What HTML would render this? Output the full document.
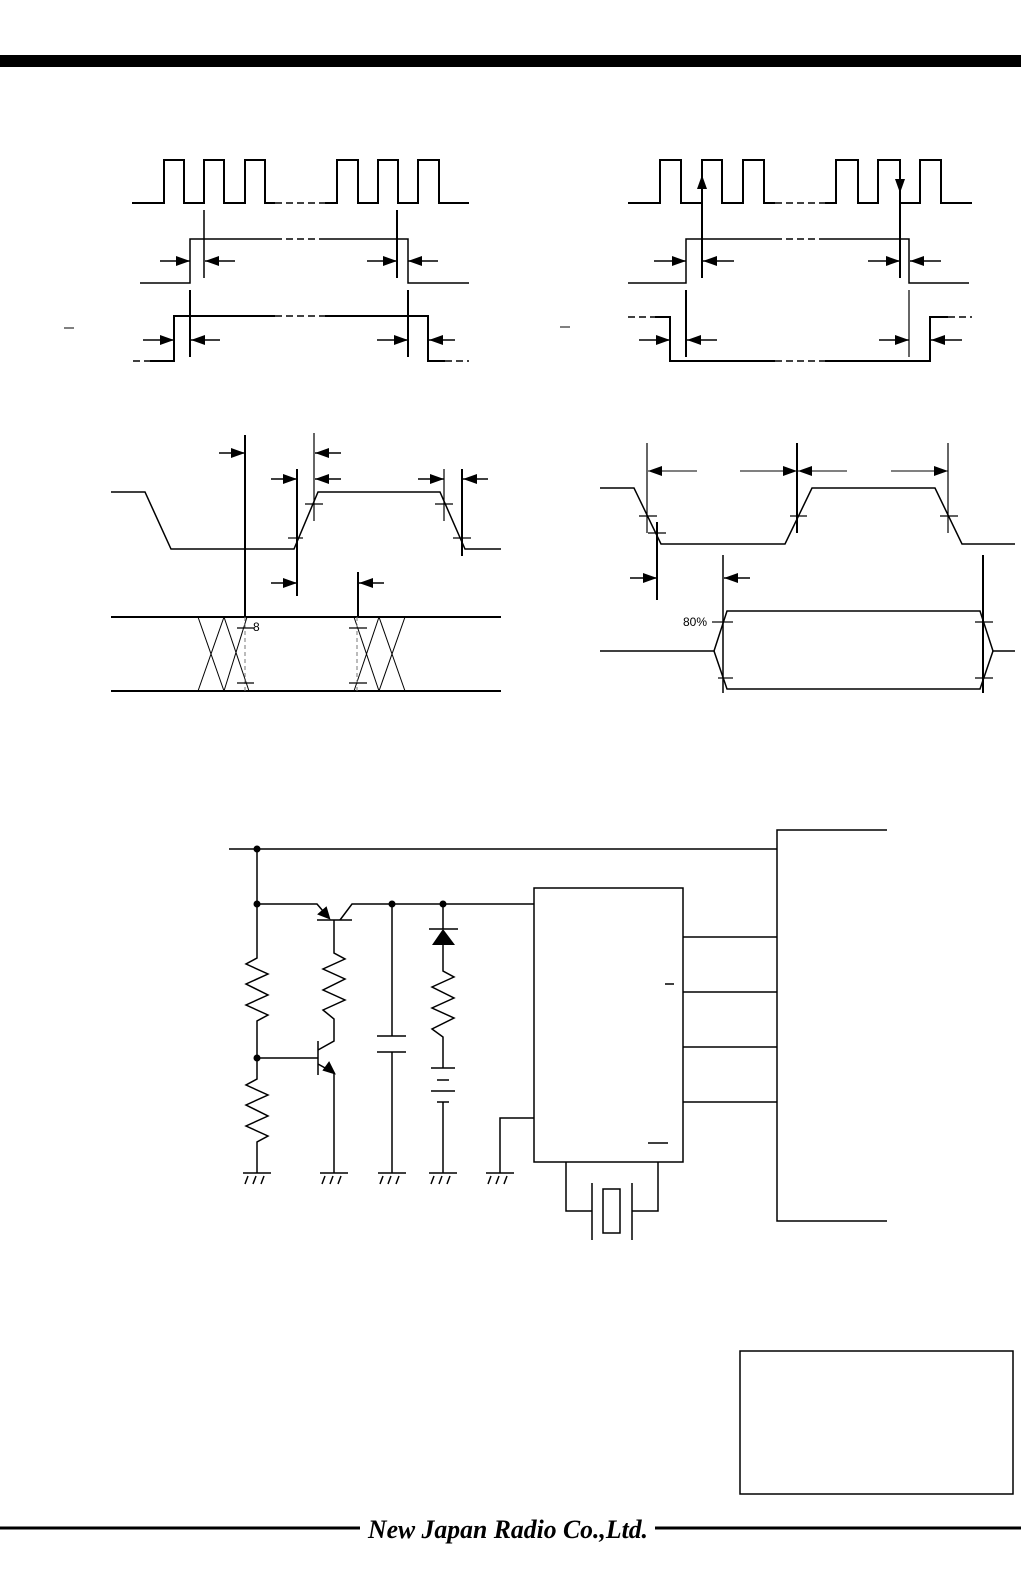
<!DOCTYPE html>
<html><head><meta charset="utf-8"><style>html,body{margin:0;padding:0;background:#fff}svg{display:block}</style></head>
<body>
<svg width="1021" height="1576" viewBox="0 0 1021 1576" xmlns="http://www.w3.org/2000/svg" font-family="Liberation Sans, sans-serif">
<defs>
<marker id="a" markerUnits="userSpaceOnUse" markerWidth="14" markerHeight="10" refX="14" refY="5" orient="auto"><path d="M0,0 L14,5 L0,10 Z" fill="#000"/></marker>
<g id="gnd"><line x1="-14" y1="0" x2="14" y2="0"/><line x1="-9" y1="3" x2="-12" y2="11"/><line x1="-1" y1="3" x2="-4" y2="11"/><line x1="7" y1="3" x2="4" y2="11"/></g>
</defs>
<rect x="0" y="55" width="1021" height="12" fill="#000"/>
<g fill="none" stroke="#000" stroke-width="2">
<!-- Diagram 1 -->
<polyline points="132,203 164,203 164,160 184,160 184,203 204,203 204,160 224,160 224,203 245,203 245,160 265,160 265,203 275,203"/>
<polyline points="325,203 337,203 337,160 358,160 358,203 378,203 378,160 398,160 398,203 418,203 418,160 439,160 439,203 469,203"/>
<line x1="275" y1="203" x2="325" y2="203" stroke-dasharray="7,4" stroke-width="1.5"/>
<line x1="204" y1="210" x2="204" y2="278" stroke-width="1.5"/>
<line x1="397" y1="210" x2="397" y2="278"/>
<polyline points="140,283 190,283 190,239 275,239" stroke-width="1.5"/>
<polyline points="325,239 408,239 408,283 469,283" stroke-width="1.5"/>
<line x1="275" y1="239" x2="325" y2="239" stroke-dasharray="7,4" stroke-width="1.5"/>
<line x1="190" y1="290" x2="190" y2="357"/>
<line x1="408" y1="290" x2="408" y2="357"/>
<polyline points="150,361 174,361 174,316 275,316"/>
<polyline points="325,316 428,316 428,361 445,361"/>
<g stroke-dasharray="7,4" stroke-width="1.5"><line x1="133" y1="361" x2="150" y2="361"/><line x1="275" y1="316" x2="325" y2="316"/><line x1="445" y1="361" x2="469" y2="361"/></g>
<!-- Diagram 2 -->
<polyline points="628,203 660,203 660,160 681,160 681,203 702,203 702,160 722,160 722,203 743,203 743,160 764,160 764,203 775,203"/>
<polyline points="825,203 836,203 836,160 858,160 858,203 878,203 878,160 900,160 900,203 920,203 920,160 941,160 941,203 972,203"/>
<line x1="775" y1="203" x2="825" y2="203" stroke-dasharray="7,4" stroke-width="1.5"/>
<line x1="702" y1="188" x2="702" y2="278"/>
<line x1="900" y1="178" x2="900" y2="278"/>
<polyline points="628,283 686,283 686,239 775,239" stroke-width="1.5"/>
<polyline points="825,239 909,239 909,283 969,283" stroke-width="1.5"/>
<line x1="775" y1="239" x2="825" y2="239" stroke-dasharray="7,4" stroke-width="1.5"/>
<line x1="686" y1="290" x2="686" y2="357"/>
<line x1="909" y1="290" x2="909" y2="357" stroke-width="1.2"/>
<polyline points="655,317 670,317 670,361 775,361"/>
<polyline points="825,361 930,361 930,317 948,317"/>
<g stroke-dasharray="7,4" stroke-width="1.5"><line x1="628" y1="317" x2="655" y2="317"/><line x1="775" y1="361" x2="825" y2="361"/><line x1="948" y1="317" x2="972" y2="317"/></g>
<!-- Diagram 3 -->
<polyline points="111,492 145,492 171,549 294,549 318,492 440,492 465,549 501,549" stroke-width="1.5"/>
<line x1="245" y1="435" x2="245" y2="617"/>
<line x1="297" y1="469" x2="297" y2="596"/>
<line x1="314" y1="433" x2="314" y2="521" stroke-width="1.2"/>
<line x1="444" y1="469" x2="444" y2="521" stroke-width="1.2"/>
<line x1="462" y1="469" x2="462" y2="556"/>
<line x1="358" y1="572" x2="358" y2="617"/>
<g stroke-width="1.2"><line x1="305" y1="504" x2="323" y2="504"/><line x1="288" y1="538" x2="303" y2="538"/><line x1="435" y1="504" x2="453" y2="504"/><line x1="453" y1="538" x2="471" y2="538"/></g>
<line x1="111" y1="617" x2="501" y2="617"/>
<line x1="111" y1="691" x2="501" y2="691"/>
<g stroke-width="1"><line x1="198" y1="617" x2="224" y2="691"/><line x1="224" y1="617" x2="198" y2="691"/><line x1="224" y1="617" x2="249" y2="691"/><line x1="247" y1="617" x2="224" y2="691"/>
<line x1="354" y1="617" x2="379" y2="691"/><line x1="379" y1="617" x2="354" y2="691"/><line x1="379" y1="617" x2="405" y2="691"/><line x1="405" y1="617" x2="379" y2="691"/></g>
<g stroke-width="1" stroke="#777" stroke-dasharray="4,3"><line x1="245" y1="617" x2="245" y2="691"/><line x1="357" y1="617" x2="357" y2="691"/></g>
<g stroke-width="1.2"><line x1="237" y1="628" x2="254" y2="628"/><line x1="237" y1="683" x2="254" y2="683"/><line x1="349" y1="628" x2="367" y2="628"/><line x1="349" y1="683" x2="367" y2="683"/></g>
<!-- Diagram 4 -->
<polyline points="600,488 634,488 661,544 785,544 812,488 935,488 962,544 1015,544" stroke-width="1.5"/>
<g stroke-width="1.2"><line x1="647" y1="443" x2="647" y2="533"/><line x1="948" y1="443" x2="948" y2="533"/></g>
<line x1="797" y1="443" x2="797" y2="533"/>
<line x1="657" y1="522" x2="657" y2="600"/>
<line x1="723" y1="555" x2="723" y2="693" stroke-width="1.5"/>
<line x1="983" y1="555" x2="983" y2="693"/>
<g stroke-width="1.2"><line x1="639" y1="516" x2="657" y2="516"/><line x1="790" y1="516" x2="807" y2="516"/><line x1="940" y1="516" x2="958" y2="516"/><line x1="648" y1="533" x2="666" y2="533"/>
<line x1="718" y1="622" x2="733" y2="622"/><line x1="975" y1="622" x2="993" y2="622"/><line x1="718" y1="678" x2="733" y2="678"/><line x1="975" y1="678" x2="993" y2="678"/><line x1="712" y1="622" x2="718" y2="622"/></g>
<polyline points="600,651 714,651 727,611 980,611 993,651 1015,651" stroke-width="1.5"/>
<polyline points="714,651 727,689 980,689 993,651" stroke-width="1.5"/>
</g>
<!-- arrows -->
<g stroke="#000" stroke-width="1.5" marker-end="url(#a)">
<line x1="160" y1="261" x2="190" y2="261"/><line x1="235" y1="261" x2="205" y2="261"/>
<line x1="367" y1="261" x2="397" y2="261"/><line x1="438" y1="261" x2="408" y2="261"/>
<line x1="143" y1="340" x2="174" y2="340"/><line x1="220" y1="340" x2="191" y2="340"/>
<line x1="377" y1="340" x2="408" y2="340"/><line x1="455" y1="340" x2="429" y2="340"/>
<line x1="654" y1="261" x2="686" y2="261"/><line x1="734" y1="261" x2="703" y2="261"/>
<line x1="868" y1="261" x2="900" y2="261"/><line x1="941" y1="261" x2="910" y2="261"/>
<line x1="639" y1="340" x2="670" y2="340"/><line x1="717" y1="340" x2="687" y2="340"/>
<line x1="879" y1="340" x2="909" y2="340"/><line x1="962" y1="340" x2="931" y2="340"/>
<line x1="702" y1="200" x2="702" y2="175"/><line x1="900" y1="170" x2="900" y2="193"/>
<line x1="219" y1="453" x2="245" y2="453"/><line x1="271" y1="479" x2="297" y2="479"/><line x1="271" y1="583" x2="297" y2="583"/>
<line x1="341" y1="453" x2="315" y2="453"/><line x1="341" y1="479" x2="315" y2="479"/>
<line x1="418" y1="479" x2="444" y2="479"/><line x1="488" y1="479" x2="463" y2="479"/>
<line x1="384" y1="583" x2="359" y2="583"/>
<line x1="630" y1="578" x2="657" y2="578"/><line x1="750" y1="578" x2="724" y2="578"/>
</g>
<g stroke="#000" stroke-width="1" marker-end="url(#a)">
<line x1="697" y1="471" x2="648" y2="471"/><line x1="740" y1="471" x2="797" y2="471"/>
<line x1="847" y1="471" x2="798" y2="471"/><line x1="891" y1="471" x2="948" y2="471"/>
</g>
<text x="253" y="631" font-size="12">8</text>
<text x="683" y="626" font-size="12">80%</text>
<line x1="64" y1="328" x2="74" y2="328" stroke="#000"/>
<line x1="560" y1="327" x2="570" y2="327" stroke="#000"/>
<!-- Circuit -->
<g fill="none" stroke="#000" stroke-width="1.5">
<line x1="229" y1="849" x2="777" y2="849"/>
<polyline points="887,830 777,830 777,1221 887,1221"/>
<rect x="534" y="888" width="149" height="274"/>
<line x1="683" y1="937" x2="777" y2="937"/><line x1="683" y1="992" x2="777" y2="992"/><line x1="683" y1="1047" x2="777" y2="1047"/><line x1="683" y1="1102" x2="777" y2="1102"/>
<line x1="665" y1="984" x2="674" y2="984"/><line x1="648" y1="1143" x2="668" y2="1143"/>
<polyline points="257,849 257,958 246,964 268,974 246,984 268,995 246,1005 268,1015 257,1021 257,1079 246,1085 268,1095 246,1105 268,1116 246,1126 268,1136 257,1142 257,1173"/>
<polyline points="257,904 317,904 329,918"/>
<line x1="317" y1="920" x2="352" y2="920"/>
<polyline points="340,920 352,904 534,904"/>
<polyline points="334,920 334,953 345,959 323,969 345,979 323,990 345,1000 323,1010 334,1019 334,1041 318,1050"/>
<line x1="318" y1="1041" x2="318" y2="1075"/>
<line x1="257" y1="1058" x2="318" y2="1058"/>
<polyline points="318,1064 334,1073 334,1173"/>
<line x1="392" y1="904" x2="392" y2="1036"/><line x1="377" y1="1036" x2="406" y2="1036"/><line x1="377" y1="1052" x2="406" y2="1052"/><line x1="392" y1="1052" x2="392" y2="1173"/>
<line x1="443" y1="904" x2="443" y2="929"/><line x1="429" y1="929" x2="458" y2="929"/>
<polyline points="443,945 443,971 454,977 432,987 454,998 432,1008 454,1018 432,1029 443,1037 443,1068"/>
<line x1="431" y1="1068" x2="455" y2="1068"/><line x1="437" y1="1080" x2="449" y2="1080"/><line x1="431" y1="1091" x2="455" y2="1091"/><line x1="437" y1="1102" x2="449" y2="1102"/>
<line x1="443" y1="1102" x2="443" y2="1173"/>
<polyline points="534,1118 500,1118 500,1173"/>
<polyline points="566,1162 566,1211 592,1211"/><polyline points="658,1162 658,1211 632,1211"/>
<line x1="592" y1="1183" x2="592" y2="1240"/><line x1="632" y1="1183" x2="632" y2="1240"/>
<rect x="603" y="1189" width="17" height="44"/>
<use href="#gnd" x="257" y="1173"/><use href="#gnd" x="334" y="1173"/><use href="#gnd" x="392" y="1173"/><use href="#gnd" x="443" y="1173"/><use href="#gnd" x="500" y="1173"/>
</g>
<path d="M432,945 L455,945 L443,929 Z" fill="#000"/>
<path d="M329,918 L319,914 L326,908 Z" fill="#000" stroke="#000" stroke-width="2"/>
<path d="M334,1073 L324,1070 L329,1063 Z" fill="#000" stroke="#000" stroke-width="2"/>
<g fill="#000"><circle cx="257" cy="849" r="3.5"/><circle cx="257" cy="904" r="3.5"/><circle cx="392" cy="904" r="3.5"/><circle cx="443" cy="904" r="3.5"/><circle cx="257" cy="1058" r="3.5"/></g>
<rect x="740" y="1351" width="273" height="143" fill="none" stroke="#000" stroke-width="1.5"/>
<line x1="0" y1="1528" x2="360" y2="1528" stroke="#000" stroke-width="3"/>
<line x1="655" y1="1528" x2="1021" y2="1528" stroke="#000" stroke-width="3"/>
<text x="368" y="1538" font-family="Liberation Serif, serif" font-style="italic" font-weight="bold" font-size="26" textLength="280" lengthAdjust="spacingAndGlyphs">New Japan Radio Co.,Ltd.</text>
</svg>
</body></html>
